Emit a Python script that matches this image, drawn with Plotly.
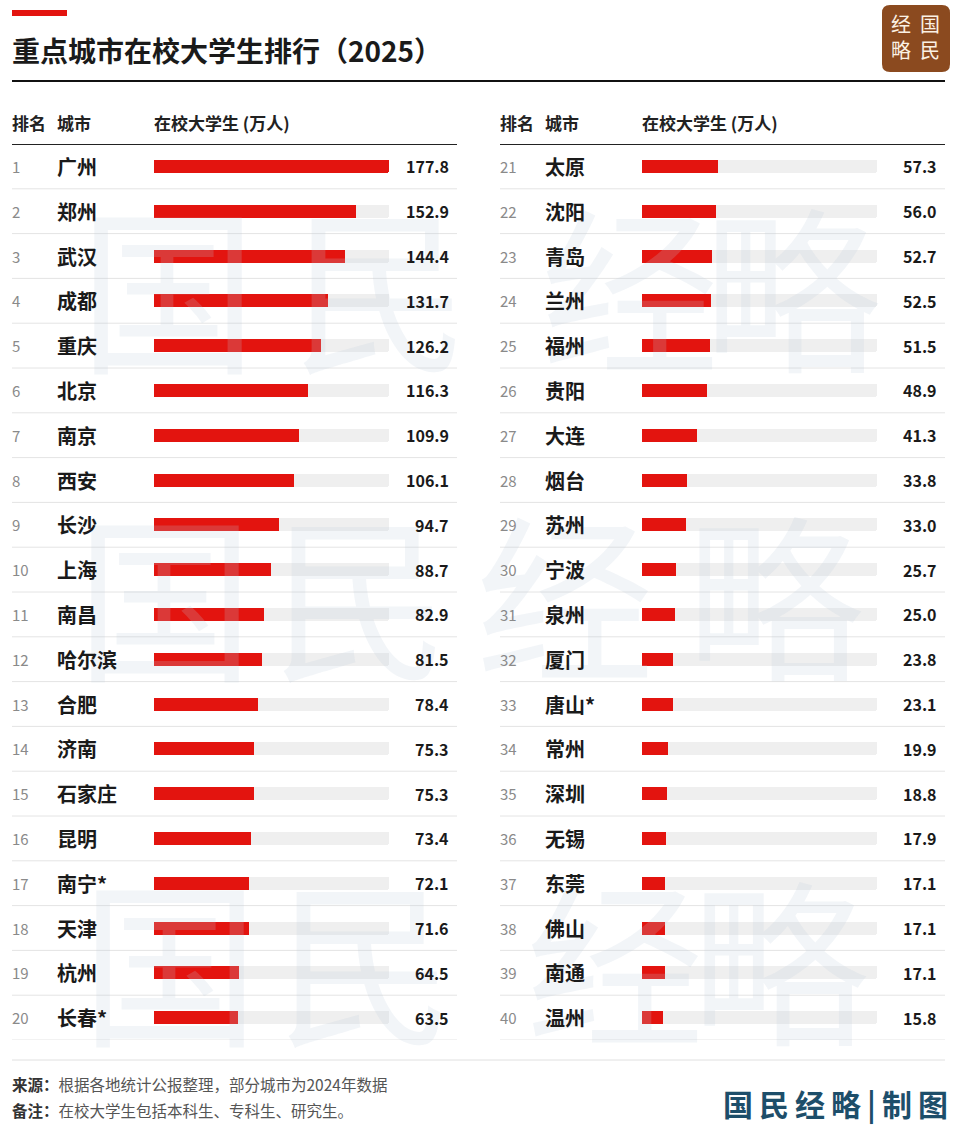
import plotly.graph_objects as go

W, H = 960, 1130
FONT = "Noto Sans CJK SC, Noto Sans, sans-serif"

cities_left = ["广州", "郑州", "武汉", "成都", "重庆", "北京", "南京", "西安", "长沙", "上海",
               "南昌", "哈尔滨", "合肥", "济南", "石家庄", "昆明", "南宁*", "天津", "杭州", "长春*"]
values_left = [177.8, 152.9, 144.4, 131.7, 126.2, 116.3, 109.9, 106.1, 94.7, 88.7,
               82.9, 81.5, 78.4, 75.3, 75.3, 73.4, 72.1, 71.6, 64.5, 63.5]
cities_right = ["太原", "沈阳", "青岛", "兰州", "福州", "贵阳", "大连", "烟台", "苏州", "宁波",
                "泉州", "厦门", "唐山*", "常州", "深圳", "无锡", "东莞", "佛山", "南通", "温州"]
values_right = [57.3, 56.0, 52.7, 52.5, 51.5, 48.9, 41.3, 33.8, 33.0, 25.7,
                25.0, 23.8, 23.1, 19.9, 18.8, 17.9, 17.1, 17.1, 17.1, 15.8]
ranks_left = list(range(1, 21))
ranks_right = list(range(21, 41))

title = "重点城市在校大学生排行（2025）"
header_rank, header_city, header_val = "排名", "城市", "在校大学生 (万人)"
source_note = "<b style='color:#333'>来源：</b>根据各地统计公报整理，部分城市为2024年数据"
remark_note = "<b style='color:#333'>备注：</b>在校大学生包括本科生、专科生、研究生。"
signature = "国\u2009民\u2009经\u2009略\u2009|\u2009制\u2009图"

RED = "#e3140f"
TRACK = "#efefef"
VMAX = max(values_left + values_right)


def px(x):
    return x / W


def py(y):
    return 1 - y / H


ROW_TOP, ROW_BOT = 144, 1040
ydom = [py(ROW_BOT), py(ROW_TOP)]
n = len(cities_left)

fig = go.Figure()

columns = [
    dict(cities=cities_left, values=values_left, ranks=ranks_left, xa="x", ya="y",
         x0=12, x1=457, rank_x=10, city_x=55, bar0=152, val_x=451),
    dict(cities=cities_right, values=values_right, ranks=ranks_right, xa="x2", ya="y2",
         x0=500, x1=945, rank_x=498, city_x=543, bar0=640, val_x=939),
]

annotations = []
shapes = []

# watermark (drawn first so it sits under the table texts)
wm_rows = [(282, [(168, "国"), (380, "民"), (630, "经"), (792, "略")]),
           (590, [(165, "国"), (360, "民"), (565, "经"), (775, "略")]),
           (955, [(170, "国"), (365, "民"), (615, "经"), (780, "略")])]
for wy, chars in wm_rows:
    for wx, ch in chars:
        annotations.append(dict(x=px(wx), y=py(wy), xref="paper", yref="paper", text=ch,
                                showarrow=False, xanchor="center", yanchor="middle",
                                font=dict(size=178, color="rgba(190,205,218,0.2)", family=FONT)))

for c in columns:
    pos = list(range(len(c["cities"])))
    fig.add_trace(go.Bar(x=[VMAX] * len(pos), y=pos, orientation="h", width=0.29,
                         marker=dict(color=TRACK, line=dict(width=0)),
                         xaxis=c["xa"], yaxis=c["ya"], hoverinfo="skip", showlegend=False))
    fig.add_trace(go.Bar(x=c["values"], y=pos, orientation="h", width=0.29,
                         marker=dict(color=RED, line=dict(width=0)),
                         xaxis=c["xa"], yaxis=c["ya"], showlegend=False,
                         customdata=c["cities"], hovertemplate="%{customdata}: %{x}<extra></extra>"))
    for i, (city, v, r) in enumerate(zip(c["cities"], c["values"], c["ranks"])):
        annotations.append(dict(x=px(c["rank_x"]), y=i, xref="paper", yref=c["ya"],
                                text=str(r), showarrow=False, xanchor="left", yanchor="middle",
                                font=dict(size=15, color="#8a8a8a", family=FONT)))
        annotations.append(dict(x=px(c["city_x"]), y=i, xref="paper", yref=c["ya"],
                                text=f"<b>{city}</b>", showarrow=False, xanchor="left", yanchor="middle",
                                font=dict(size=20, color="#1a1a1a", family=FONT)))
        annotations.append(dict(x=px(c["val_x"]), y=i, xref="paper", yref=c["ya"],
                                text=f"<b>{v:.1f}</b>", showarrow=False, xanchor="right", yanchor="middle",
                                font=dict(size=16, color="#1a1a1a", family=FONT)))
    for k in range(n):
        shapes.append(dict(type="line", xref="paper", yref=c["ya"],
                           x0=px(c["x0"]), x1=px(c["x1"]), y0=k + 0.5, y1=k + 0.5,
                           line=dict(color="#e4e4e4", width=1), layer="below"))
    shapes.append(dict(type="line", xref="paper", yref=c["ya"],
                       x0=px(c["x0"]), x1=px(c["x1"]), y0=-0.5, y1=-0.5,
                       line=dict(color="#222", width=2)))
    for hx, htxt in [(c["rank_x"], header_rank), (c["city_x"], header_city), (c["bar0"], header_val)]:
        annotations.append(dict(x=px(hx), y=py(122), xref="paper", yref="paper", text=f"<b>{htxt}</b>",
                                showarrow=False, xanchor="left", yanchor="middle",
                                font=dict(size=17, color="#222", family=FONT)))

# title & decorations
shapes.append(dict(type="rect", xref="paper", yref="paper", x0=px(12), x1=px(67), y0=py(16), y1=py(10),
                   fillcolor=RED, line=dict(width=0)))
shapes.append(dict(type="line", xref="paper", yref="paper", x0=px(12), x1=px(945), y0=py(81), y1=py(81),
                   line=dict(color="#111", width=2)))
shapes.append(dict(type="line", xref="paper", yref="paper", x0=px(12), x1=px(945), y0=py(1060), y1=py(1060),
                   line=dict(color="#e0e0e0", width=1)))
lx0, lx1, ly0, ly1, rr = 882, 950, 5, 72, 8
path = (f"M {px(lx0 + rr)},{py(ly0)} L {px(lx1 - rr)},{py(ly0)} "
        f"Q {px(lx1)},{py(ly0)} {px(lx1)},{py(ly0 + rr)} L {px(lx1)},{py(ly1 - rr)} "
        f"Q {px(lx1)},{py(ly1)} {px(lx1 - rr)},{py(ly1)} L {px(lx0 + rr)},{py(ly1)} "
        f"Q {px(lx0)},{py(ly1)} {px(lx0)},{py(ly1 - rr)} L {px(lx0)},{py(ly0 + rr)} "
        f"Q {px(lx0)},{py(ly0)} {px(lx0 + rr)},{py(ly0)} Z")
shapes.append(dict(type="path", xref="paper", yref="paper", path=path, fillcolor="#8b4a1f",
                   line=dict(width=0)))
for (lx, ly, ch) in [(901, 24, "经"), (930, 24, "国"), (901, 50, "略"), (930, 50, "民")]:
    annotations.append(dict(x=px(lx), y=py(ly), xref="paper", yref="paper", text=ch, showarrow=False,
                            xanchor="center", yanchor="middle",
                            font=dict(size=20, color="#fbf1e4", family=FONT)))

annotations.append(dict(x=px(10), y=py(50), xref="paper", yref="paper", text=f"<b>{title}</b>",
                        showarrow=False, xanchor="left", yanchor="middle",
                        font=dict(size=28, color="#1a1a1a", family=FONT)))
annotations.append(dict(x=px(10), y=py(1084), xref="paper", yref="paper", text=source_note,
                        showarrow=False, xanchor="left", yanchor="middle",
                        font=dict(size=15.5, color="#555", family=FONT)))
annotations.append(dict(x=px(10), y=py(1110), xref="paper", yref="paper", text=remark_note,
                        showarrow=False, xanchor="left", yanchor="middle",
                        font=dict(size=15.5, color="#555", family=FONT)))
annotations.append(dict(x=px(950), y=py(1103), xref="paper", yref="paper", text=f"<b>{signature}</b>",
                        showarrow=False, xanchor="right", yanchor="middle",
                        font=dict(size=30, color="#1d4e6a", family=FONT)))

axis_common = dict(range=[0, VMAX], showgrid=False, zeroline=False, showticklabels=False,
                   showline=False, fixedrange=True)
yaxis_common = dict(range=[n - 0.5, -0.5], showgrid=False, zeroline=False, showticklabels=False,
                    showline=False, fixedrange=True, domain=ydom)

fig.update_layout(
    width=W, height=H, margin=dict(l=0, r=0, t=0, b=0),
    paper_bgcolor="white", plot_bgcolor="rgba(0,0,0,0)",
    barmode="overlay", barcornerradius=2, bargap=0,
    xaxis=dict(domain=[px(154), px(389)], anchor="y", **axis_common),
    yaxis=dict(anchor="x", **yaxis_common),
    xaxis2=dict(domain=[px(642), px(877)], anchor="y2", **axis_common),
    yaxis2=dict(anchor="x2", **yaxis_common),
    annotations=annotations, shapes=shapes,
    font=dict(family=FONT),
)

fig.write_html("out.html", config=dict(displayModeBar=False),
               post_script="document.body.style.margin='0';document.body.style.overflow='hidden';")
